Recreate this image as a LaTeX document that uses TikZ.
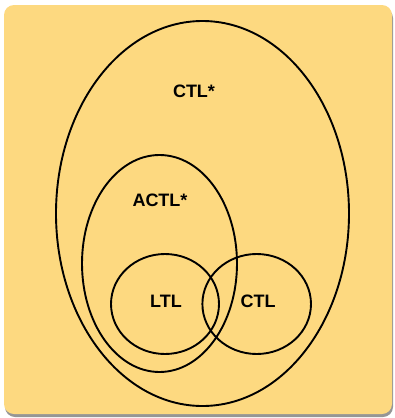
\documentclass[tikz,border=0pt]{standalone}
\usepackage{fontspec}
\setmainfont{Liberation Sans}
\definecolor{panel}{RGB}{253,217,128}
\definecolor{panelshadow}{RGB}{150,150,150}
\begin{document}
\begin{tikzpicture}[x=1pt,y=-1pt,
  setline/.style={draw=black,line width=1.9pt},
  setlabel/.style={font=\fontsize{18}{20}\selectfont\bfseries,inner sep=0pt}]
\useasboundingbox (0,0) rectangle (394,418);
% panel with a soft drop shadow
\fill[panelshadow,rounded corners=10pt] (5,8) rectangle (393,417);
\fill[panel,rounded corners=10pt] (4,5) rectangle (392,414);
% nested sets
\draw[setline] (202.5,213.5) ellipse [x radius=146.5,y radius=192.5];
\draw[setline] (159.5,263.5) ellipse [x radius=77.5,y radius=108.5];
\draw[setline] (165,304) ellipse [x radius=54,y radius=50];
\draw[setline] (256.7,304) ellipse [x radius=54.3,y radius=50];
% labels
\node[setlabel] (ctlstar) at (194,91) {CTL*};
\node[setlabel] (actlstar) at (160,200) {ACTL*};
\node[setlabel] (ltl) at (166,301) {LTL};
\node[setlabel] (ctl) at (258,301) {CTL};
\end{tikzpicture}
\end{document}
